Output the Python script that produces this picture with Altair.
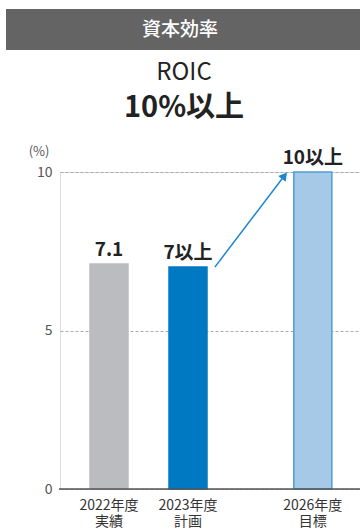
import altair as alt
import pandas as pd

# ---- data ----
years = ["2022年度", "2023年度", "2026年度"]
kinds = ["実績", "計画", "目標"]
slots = [0.0, 1.0, 2.58]          # horizontal slot of each bar (gap before 2026)
values = [7.1, 7.0, 10.0]
value_labels = ["7.1", "7以上", "10以上"]
fills = ["#BBBCBF", "#0079C2", "#A5C9E6"]
strokes = ["#BBBCBF", "#0079C2", "#4C9ED9"]
y_ticks = [0, 5, 10]

FONT = "Noto Sans CJK JP"
W, H = 300, 317

df = pd.DataFrame({
    "year": years, "kind": kinds, "x": slots, "v": values, "lab": value_labels,
    "fill": fills, "stroke": strokes,
})

xs = alt.Scale(domain=[-0.62, 3.177], nice=False, zero=False, padding=0)
ys = alt.Scale(domain=[0, 10], nice=False)

base = alt.Chart(df)

bars = base.mark_bar(size=38, strokeWidth=1.5).encode(
    x=alt.X("x:Q", scale=xs, axis=None),
    y=alt.Y("v:Q", scale=ys, axis=alt.Axis(
        values=y_ticks, title=None, domain=False, ticks=False,
        labelPadding=8, labelFont=FONT, labelFontSize=14, labelColor="#555555",
        grid=True, gridDash=[3, 2], gridColor="#AAAAAA", gridWidth=1,
    )),
    fill=alt.Fill("fill:N", scale=None),
    stroke=alt.Stroke("stroke:N", scale=None),
)

bar_labels = base.mark_text(
    font=FONT, fontSize=19, fontWeight="bold", color="#222222",
    baseline="bottom", dy=-4,
).encode(x=alt.X("x:Q", scale=xs), y=alt.Y("v:Q", scale=ys), text="lab:N")

year_labels = base.mark_text(
    font=FONT, fontSize=14, color="#333333", baseline="middle",
).encode(x=alt.X("x:Q", scale=xs), y=alt.value(H + 17), text="year:N")
kind_labels = base.mark_text(
    font=FONT, fontSize=14, color="#333333", baseline="middle",
).encode(x=alt.X("x:Q", scale=xs), y=alt.value(H + 33), text="kind:N")

# baseline axis line
zero_line = alt.Chart(pd.DataFrame({"z": [0]})).mark_rule(
    color="#555555", strokeWidth=1.5
).encode(y=alt.Y("z:Q", scale=ys), x=alt.value(-1), x2=alt.value(W))

# arrow from 2023 plan bar to 2026 target bar
arrow_df = pd.DataFrame({
    "x": [slots[1] + 0.34], "y": [values[1]],
    "x2": [slots[2] - 0.37], "y2": [values[2] - 0.15],
})
arrow_line = alt.Chart(arrow_df).mark_rule(color="#1C86CF", strokeWidth=1.5).encode(
    x=alt.X("x:Q", scale=xs), y=alt.Y("y:Q", scale=ys),
    x2="x2:Q", y2="y2:Q",
)
arrow_head = alt.Chart(arrow_df).mark_point(
    shape="triangle", filled=True, color="#1C86CF", size=90, angle=38, opacity=1
).encode(
    x=alt.X("x2:Q", scale=xs), y=alt.Y("y2:Q", scale=ys),
)

# header & titles
header_bg = alt.Chart(pd.DataFrame({"a": [0]})).mark_rect(color="#646464").encode(
    x=alt.value(-54), x2=alt.value(W), y=alt.value(-163), y2=alt.value(-122)
)
header_txt = alt.Chart(pd.DataFrame({"t": ["資本効率"]})).mark_text(
    font=FONT, fontSize=19, fontWeight=500, color="white", baseline="middle"
).encode(x=alt.value(120), y=alt.value(-142), text="t:N")
roic_txt = alt.Chart(pd.DataFrame({"t": ["ROIC"]})).mark_text(
    font=FONT, fontSize=24, color="#222222", baseline="middle"
).encode(x=alt.value(124), y=alt.value(-99), text="t:N")
target_txt = alt.Chart(pd.DataFrame({"t": ["10%以上"]})).mark_text(
    font=FONT, fontSize=29, fontWeight="bold", color="#222222", baseline="middle"
).encode(x=alt.value(124), y=alt.value(-64), text="t:N")
unit_txt = alt.Chart(pd.DataFrame({"t": ["(%)"]})).mark_text(
    font=FONT, fontSize=13, color="#555555", baseline="middle"
).encode(x=alt.value(-21), y=alt.value(-20), text="t:N")

chart = alt.layer(
    header_bg, header_txt, roic_txt, target_txt, unit_txt,
    bars, zero_line, bar_labels, year_labels, kind_labels, arrow_line, arrow_head,
).properties(
    width=W, height=H,
    autosize=alt.AutoSizeParams(type="none"),
    padding={"left": 60, "top": 172, "right": 0, "bottom": 40},
).configure_view(stroke=None).configure(background="white")

chart.save("out.html", embed_options={"renderer": "svg", "actions": False})
